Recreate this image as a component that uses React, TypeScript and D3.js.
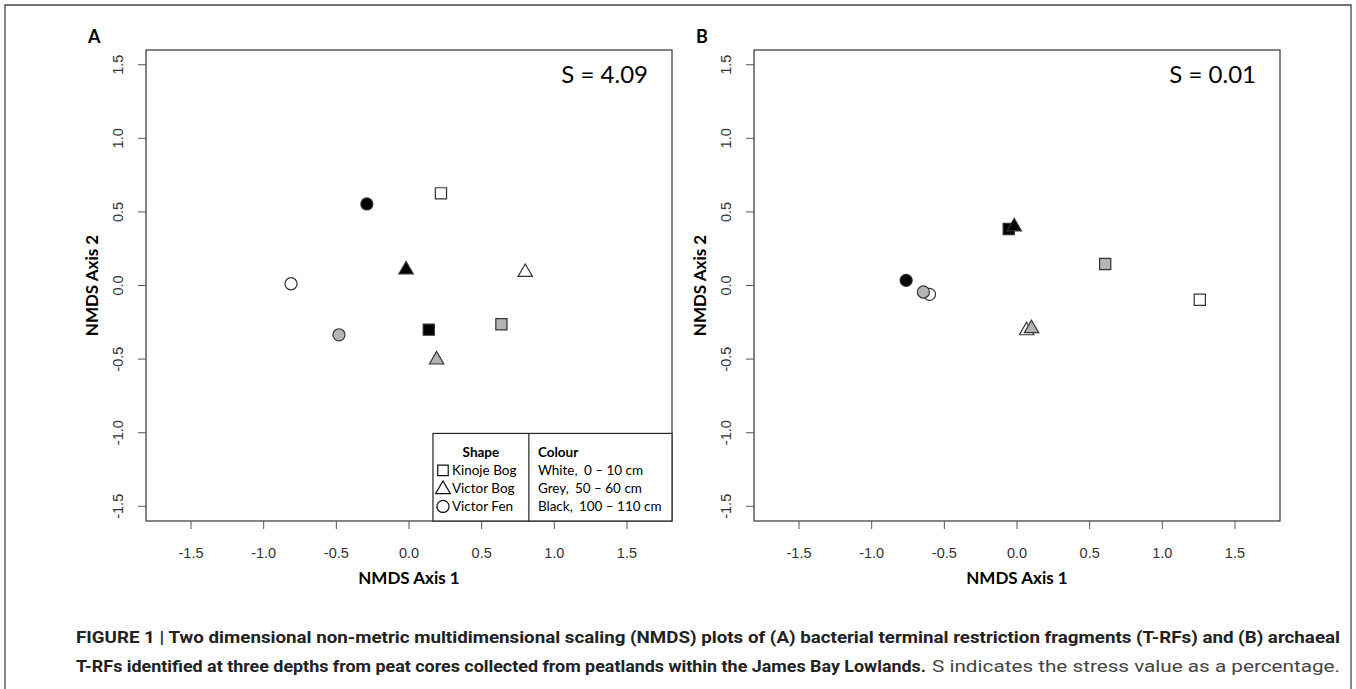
import React from 'react'
import * as d3 from 'd3'

// NMDS scores, order: Kinoje Bog, Victor Bog, Victor Fen x (0-10, 50-60, 100-110 cm)
const sites = ['Kinoje Bog', 'Victor Bog', 'Victor Fen']
const depthLabels = ['White,', 'Grey,', 'Black,']
const depthRanges = ['0 – 10 cm', '50 – 60 cm', '100 – 110 cm']
const fills = ['#ffffff', '#b4b4b4', '#000000']

const axis1A = [0.22, 0.636, 0.136, 0.8, 0.19, -0.02, -0.812, -0.482, -0.29]
const axis2A = [0.626, -0.263, -0.3, 0.1, -0.495, 0.117, 0.012, -0.335, 0.554]
const axis1B = [1.258, 0.607, -0.057, 0.066, 0.1, -0.019, -0.602, -0.644, -0.763]
const axis2B = [-0.097, 0.146, 0.384, -0.296, -0.282, 0.41, -0.06, -0.044, 0.035]

const ticks = [-1.5, -1.0, -0.5, 0.0, 0.5, 1.0, 1.5]
const stress = ['S = 4.09', 'S = 0.01']

const W = 1356, H = 689
const pw = 526, ph = 471, top = 50
const tickFont = '"Liberation Sans", Arial, sans-serif'
const calibri = 'Lato, "Open Sans", sans-serif'

const shapes = [d3.symbolSquare, d3.symbolTriangle, d3.symbolCircle]
const sizes = [125, 90, 115]

function Panel({left, letter, xs, ys, s, legend}: any) {
  const x = d3.scaleLinear().domain([-1.81, 1.81]).range([0, pw])
  const y = d3.scaleLinear().domain([-1.6, 1.6]).range([ph, 0])
  const pts = xs.map((v: number, i: number) => ({x: v, y: ys[i], site: Math.floor(i / 3), depth: i % 3}))
  const lx = x(0.165), dx = x(0.825), ly = y(-1.005)
  return (
    <g transform={`translate(${left},${top})`}>
      <text x={-58} y={-7} fontFamily={calibri} fontWeight="bold" fontSize={18}>{letter}</text>
      <rect x={0} y={0} width={pw} height={ph} fill="none" stroke="#333" strokeWidth={1.2}/>
      {ticks.map(t => (
        <g key={'x' + t}>
          <line x1={x(t)} x2={x(t)} y1={ph} y2={ph + 8} stroke="#555"/>
          <text x={x(t)} y={ph + 37} textAnchor="middle" fontFamily={tickFont} fontSize={14.5} fill="#333">{t.toFixed(1)}</text>
        </g>
      ))}
      {ticks.map(t => (
        <g key={'y' + t}>
          <line x1={-8} x2={0} y1={y(t)} y2={y(t)} stroke="#555"/>
          <text transform={`translate(${-23},${y(t)}) rotate(-90)`} textAnchor="middle" fontFamily={tickFont} fontSize={14.5} fill="#333">{t.toFixed(1)}</text>
        </g>
      ))}
      <text x={pw / 2} y={ph + 63} textAnchor="middle" fontFamily={calibri} fontWeight="bold" fontSize={17}>NMDS Axis 1</text>
      <text transform={`translate(${-48},${ph / 2}) rotate(-90)`} textAnchor="middle" fontFamily={calibri} fontWeight="bold" fontSize={17}>NMDS Axis 2</text>
      <text x={pw - 24} y={33} textAnchor="end" fontFamily={calibri} fontSize={24}>{s}</text>
      {pts.map((p: any, i: number) => (
        <path key={i} d={d3.symbol().type(shapes[p.site]).size(sizes[p.site])() as string}
          transform={`translate(${x(p.x)},${y(p.y) + (p.site === 1 ? 1.5 : 0)})`}
          fill={fills[p.depth]} stroke="#333" strokeWidth={1.2}/>
      ))}
      {legend && (
        <g fontFamily={calibri} fontSize={13.5}>
          <rect x={lx} y={ly} width={pw - lx} height={ph - ly} fill="#fff" stroke="#222" strokeWidth={1.2}/>
          <line x1={dx} x2={dx} y1={ly} y2={ph} stroke="#222" strokeWidth={1.2}/>
          <text x={(lx + dx) / 2} y={ly + 24} textAnchor="middle" fontWeight="bold">Shape</text>
          <text x={dx + 9} y={ly + 24} fontWeight="bold">Colour</text>
          {sites.map((st, i) => (
            <g key={st}>
              <path d={d3.symbol().type(shapes[i]).size([110, 95, 115][i])() as string}
                transform={`translate(${lx + 10},${ly + 37 + i * 18 + (i === 1 ? 1 : 0)})`} fill="none" stroke="#111" strokeWidth={1.2}/>
              <text x={lx + 19} y={ly + 42 + i * 18}>{st}</text>
            </g>
          ))}
          {depthLabels.map((d, i) => (
            <g key={d}>
              <text x={dx + 9} y={ly + 42 + i * 18}>{d}</text>
              <text x={dx + [55, 46, 50][i]} y={ly + 42 + i * 18}>{depthRanges[i]}</text>
            </g>
          ))}
        </g>
      )}
    </g>
  )
}

export default function App() {
  const cap = '"Liberation Sans Narrow", Roboto, sans-serif'
  return (
    <svg width={W} height={H} style={{position: 'absolute', left: 0, top: 0, background: '#fff'}}>
      <path d={`M5,${H + 5}V5H1351V${H + 5}`} fill="none" stroke="#444" strokeWidth={1.3}/>
      <Panel left={146} letter="A" xs={axis1A} ys={axis2A} s={stress[0]} legend={true}/>
      <Panel left={754} letter="B" xs={axis1B} ys={axis2B} s={stress[1]} legend={false}/>
      <text x={76} y={643} fontFamily={cap} fontWeight="bold" fontSize={16.5} fill="#222" textLength={1264} lengthAdjust="spacingAndGlyphs">
        FIGURE 1 | Two dimensional non-metric multidimensional scaling (NMDS) plots of (A) bacterial terminal restriction fragments (T-RFs) and (B) archaeal
      </text>
      <text x={76} y={672} fontFamily={cap} fontWeight="bold" fontSize={16.5} fill="#222" textLength={850} lengthAdjust="spacingAndGlyphs">
        T-RFs identified at three depths from peat cores collected from peatlands within the James Bay Lowlands.
      </text>
      <text x={932} y={672} fontFamily={cap} fontSize={16.5} fill="#444" textLength={408} lengthAdjust="spacingAndGlyphs">
        S indicates the stress value as a percentage.
      </text>
    </svg>
  )
}
